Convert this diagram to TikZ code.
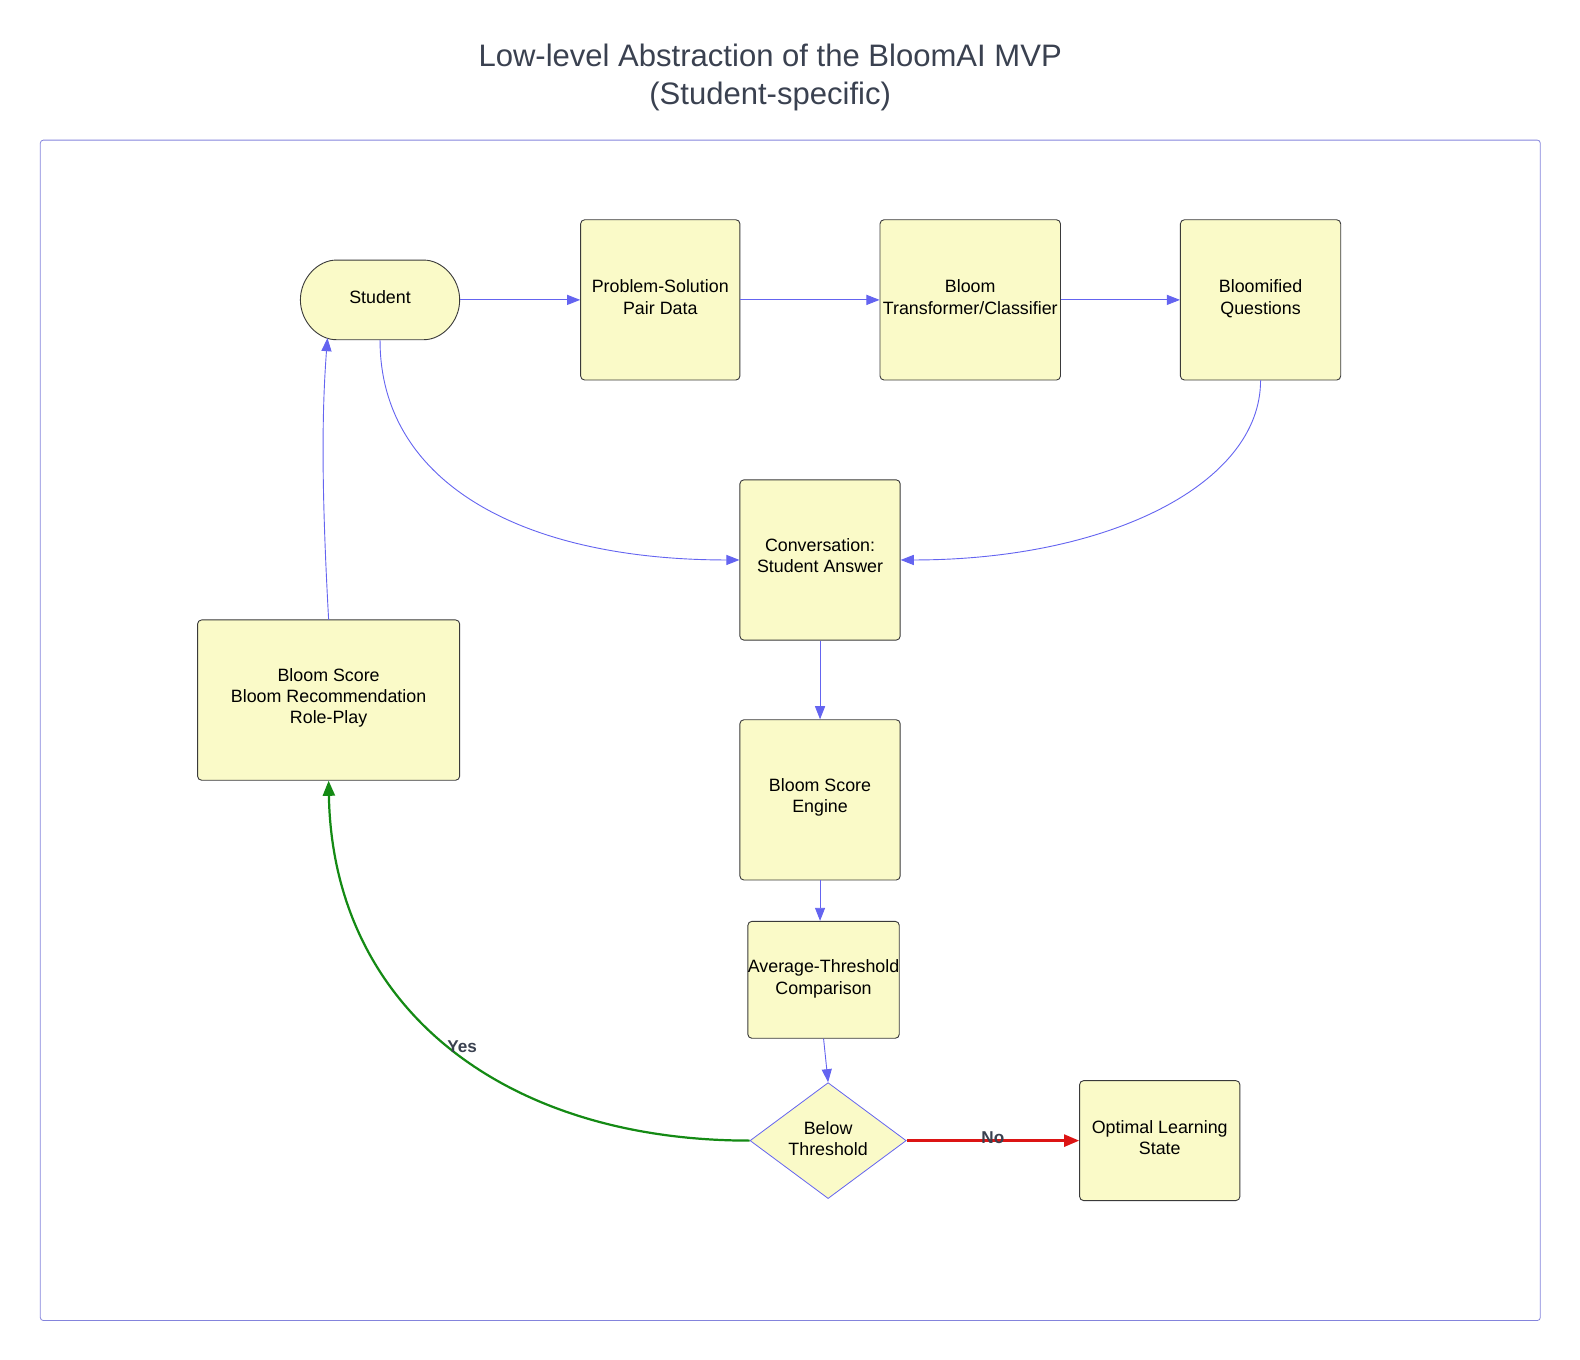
\documentclass[tikz,border=0pt]{standalone}
\usepackage{fontspec}
\setmainfont{Liberation Sans}
\usetikzlibrary{shapes.misc,shapes.geometric,arrows.meta}

\definecolor{boxfill}{HTML}{FAFAC8}
\definecolor{boxline}{HTML}{3A3A3A}
\definecolor{edgeblue}{HTML}{6464F0}
\definecolor{framecol}{HTML}{8484DC}
\definecolor{titlecol}{HTML}{3A4150}
\definecolor{yesgreen}{HTML}{148A14}
\definecolor{nored}{HTML}{DC1414}

\newcommand{\boxfont}{\fontsize{17.7}{21.3}\selectfont}
\newcommand{\titlefont}{\fontsize{30.8}{37}\selectfont}

\tikzset{
  lift/.style={execute at end node={\rule[-#1]{0pt}{0pt}}},
  lift/.default=6pt,
  box/.style={draw=boxline, fill=boxfill, rounded corners=4pt, inner sep=0pt,
    align=center, font=\boxfont, line width=0.9pt, lift},
  pill/.style={box, rounded rectangle, minimum width=158pt, minimum height=79pt},
  decision/.style={draw=edgeblue, fill=boxfill, diamond, aspect=1.35, inner sep=0pt,
    minimum width=155pt, minimum height=115pt, align=center, font=\boxfont, line width=0.8pt, lift=4pt},
  flow/.style={draw=edgeblue, line width=0.9pt, -{Triangle[length=13pt,width=10pt]}},
  yesflow/.style={draw=yesgreen, line width=2.2pt, -{Triangle[length=15pt,width=12pt]}},
  noflow/.style={draw=nored, line width=2.4pt, -{Triangle[length=15pt,width=12pt]}},
  lbl/.style={text=titlecol, font=\fontsize{17}{20}\selectfont\bfseries}
}

\begin{document}
\begin{tikzpicture}[x=1pt,y=-1pt]
  \useasboundingbox (0,0) rectangle (1567.4,1349.1);

  % Title and frame
  \node[text=titlecol, font=\titlefont, align=center] (title) at (764,77)
    {Low-level Abstraction of the BloomAI MVP\\(Student-specific)};
  \draw[framecol, line width=0.8pt, rounded corners=3pt] (40,139) rectangle (1528,1310);

  % Top row
  \node[pill] (st) at (377,297.5) {Student};
  \node[box, minimum width=158pt, minimum height=159pt] (psd) at (655,297.5) {Problem-Solution\\Pair Data};
  \node[box, minimum width=179pt, minimum height=159pt] (btc) at (962.5,297.5) {Bloom\\Transformer/Classifier};
  \node[box, minimum width=159pt, minimum height=159pt] (bq) at (1250.5,297.5) {Bloomified\\Questions};

  % Middle column
  \node[box, lift=9pt, minimum width=159pt, minimum height=159pt] (conv) at (813.5,555.5) {Conversation:\\Student Answer};
  \node[box, lift=9pt, minimum width=159pt, minimum height=159pt] (eng) at (813.5,793.5) {Bloom Score\\Engine};
  \node[box, lift=0pt, minimum width=150pt, minimum height=116pt] (avg) at (817,972) {Average-Threshold\\Comparison};
  \node[decision] (below) at (821.5,1131.5) {Below\\Threshold};
  \node[box, lift=4pt, minimum width=159pt, minimum height=119pt] (opt) at (1150.5,1131.5) {Optimal Learning\\State};

  % Left side
  \node[box, lift=8pt, minimum width=260pt, minimum height=159pt] (rec) at (326,694.5) {Bloom Score\\Bloom Recommendation\\Role-Play};

  % Straight arrows
  \draw[flow] (st.east) -- (psd.west);
  \draw[flow] (psd.east) -- (btc.west);
  \draw[flow] (btc.east) -- (bq.west);
  \draw[flow] (conv.south) -- (eng.north);
  \draw[flow] (eng.south) -- (eng.south |- avg.north);
  \draw[flow] (avg.south) -- (below.north);

  % Curved arrows into the conversation
  \draw[flow] (st.south) .. controls (377,480) and (520,555.5) .. (conv.west);
  \draw[flow] (bq.south) .. controls (1250.5,480) and (1100,555.5) .. (conv.east);

  % Feedback loop
  \draw[yesflow] (below.west) .. controls (500,1131.5) and (330,1000) .. (rec.south)
    node[lbl, pos=0.47, yshift=10pt] {Yes};
  \draw[noflow] (below.east) -- (opt.west) node[lbl, midway, yshift=3pt] {No};
  \draw[flow] (rec.north) .. controls (318,470) and (320,400) .. (st.-144);
\end{tikzpicture}
\end{document}
